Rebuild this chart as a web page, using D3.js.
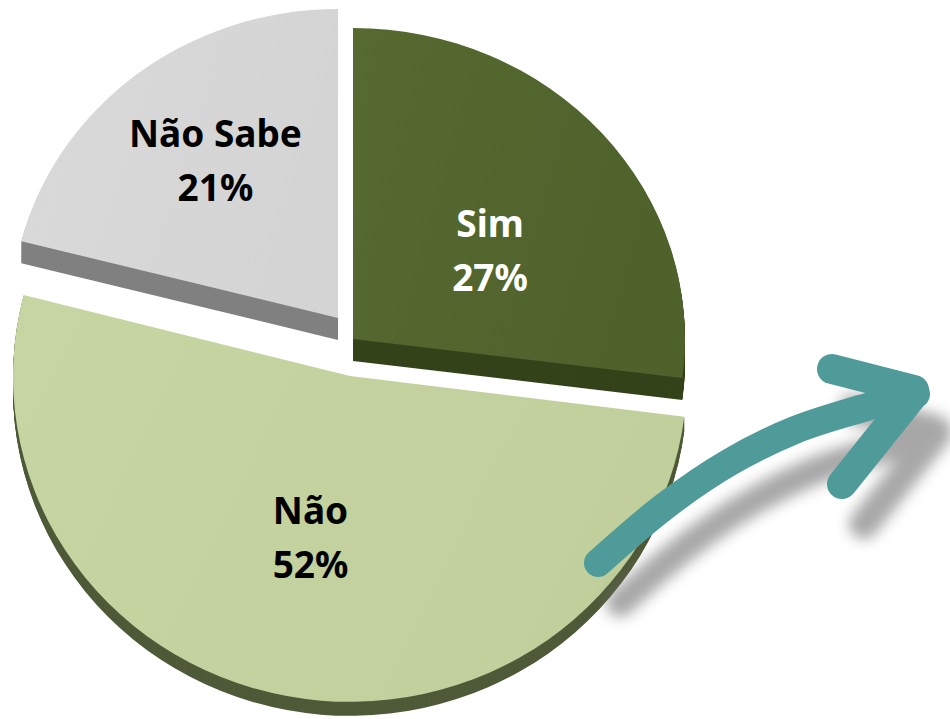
<!DOCTYPE html>
<html>
<head>
<meta charset="utf-8">
<script src="https://cdn.jsdelivr.net/npm/d3@7"></script>
<style>
  html, body { margin: 0; padding: 0; background: #fff; }
  svg { display: block; }
</style>
</head>
<body>
<div id="chart"></div>
<script>
  // data
  var categories = ['Sim', 'Não', 'Não Sabe'];
  var values = [27, 52, 21];
  var valueLabels = ['27%', '52%', '21%'];

  var width = 950, height = 719;
  var center = [346, 345];

  // look of each slice (same order as categories); the front slice is drawn
  // a little bigger and flatter to fake the perspective of the original
  var radii = [332, 337, 327];
  var tilts = [0.937, 0.967, 0.945];
  var depths = [22, 14, 22];
  var topColors = ['#4f622c', '#c0cf9b', '#d4d4d4'];
  var topLight = ['#56692f', '#c6d5a2', '#dadada'];
  var sideColors = ['#34431a', '#4f5a39', '#808080'];
  var textColors = ['#ffffff', '#000000', '#000000'];
  var explode = [[7, -6], [4, 31], [-8, -27]];
  var labelRadius = 200;
  var labelNudge = [[-13, 36], [-2, -28], [0, -8]];

  var svg = d3.select('#chart')
    .append('svg')
    .attr('width', width)
    .attr('height', height);

  var defs = svg.append('defs');
  topColors.forEach(function(c, i) {
    var grad = defs.append('linearGradient')
      .attr('id', 'top' + i)
      .attr('x1', '0%').attr('y1', '0%')
      .attr('x2', '100%').attr('y2', '30%');
    grad.append('stop').attr('offset', '0%').attr('stop-color', topLight[i]);
    grad.append('stop').attr('offset', '100%').attr('stop-color', c);
  });
  var blur = defs.append('filter')
    .attr('id', 'blur')
    .attr('x', '-20%').attr('y', '-20%')
    .attr('width', '140%').attr('height', '140%');
  blur.append('feGaussianBlur').attr('stdDeviation', 7);

  var pie = d3.pie()
    .sort(null)
    .value(function(d) { return d; });
  var arcs = pie(values);

  // back slices first, the front one (Não) last
  var drawOrder = [2, 0, 1];
  drawOrder.forEach(function(i) {
    var d = arcs[i];
    var arc = d3.arc().innerRadius(0).outerRadius(radii[i]);
    var g = svg.append('g')
      .attr('transform', 'translate(' + (center[0] + explode[i][0]) + ',' + (center[1] + explode[i][1]) + ')');
    for (var k = depths[i]; k >= 1; k--) {
      g.append('path')
        .attr('d', arc(d))
        .attr('transform', 'translate(0,' + k + ') scale(1,' + tilts[i] + ')')
        .attr('fill', sideColors[i]);
    }
    g.append('path')
      .attr('d', arc(d))
      .attr('transform', 'scale(1,' + tilts[i] + ')')
      .attr('fill', 'url(#top' + i + ')');

    var mid = (d.startAngle + d.endAngle) / 2;
    var lx = Math.sin(mid) * labelRadius + labelNudge[i][0];
    var ly = -Math.cos(mid) * labelRadius * tilts[i] + labelNudge[i][1];
    var text = g.append('text')
      .attr('text-anchor', 'middle')
      .attr('font-family', 'Noto Sans, sans-serif')
      .attr('font-weight', 700)
      .attr('font-size', 37)
      .attr('fill', textColors[i]);
    text.append('tspan').attr('x', lx).attr('y', ly - 14).text(categories[i]);
    text.append('tspan').attr('x', lx).attr('y', ly + 40).text(valueLabels[i]);
  });

  // curved arrow pointing up and to the right
  var shaft = [[598, 563], [665, 506], [730, 462], [795, 430], [860, 409], [916, 394]];
  var barbs = [
    [[832, 369], [914, 390]],
    [[914, 394], [842, 484]]
  ];
  var line = d3.line().curve(d3.curveCatmullRom);

  function drawArrow(g, color) {
    g.append('path')
      .attr('d', line(shaft))
      .attr('fill', 'none')
      .attr('stroke', color)
      .attr('stroke-width', 28)
      .attr('stroke-linecap', 'round');
    barbs.forEach(function(b) {
      g.append('path')
        .attr('d', d3.line()(b))
        .attr('fill', 'none')
        .attr('stroke', color)
        .attr('stroke-width', 30)
        .attr('stroke-linecap', 'round')
        .attr('stroke-linejoin', 'round');
    });
  }

  var shadow = svg.append('g')
    .attr('transform', 'translate(22,40)')
    .attr('filter', 'url(#blur)')
    .attr('opacity', 0.6);
  drawArrow(shadow, '#6e6e6e');
  drawArrow(svg.append('g'), '#4f9b99');
</script>
</body>
</html>
